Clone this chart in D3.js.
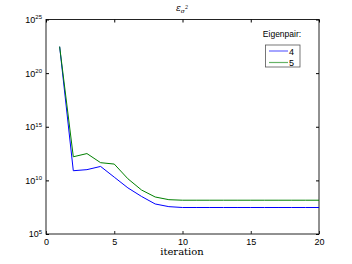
<!DOCTYPE html>
<meta charset="utf-8">
<style>
  body { margin: 0; padding: 0; background: white; }
  svg { display: block; background: white; }
  .tick text { font-family: "Liberation Sans", Arial, sans-serif; font-size: 9px; fill: #000; }
</style>
<script src="https://d3js.org/d3.v7.min.js"></script>
<svg id="vis"></svg>
<script>

var width = 352, height = 264;

// data (log10 of the value)
const iterations = d3.range(1, 21);
const eig4 = [22.47, 10.9, 11.0, 11.3, 10.3, 9.3, 8.5, 7.8, 7.55, 7.47, 7.47, 7.47, 7.47, 7.47, 7.47, 7.47, 7.47, 7.47, 7.47, 7.47];
const eig5 = [22.47, 12.2, 12.5, 11.65, 11.52, 10.15, 9.1, 8.45, 8.2, 8.15, 8.15, 8.15, 8.15, 8.15, 8.15, 8.15, 8.15, 8.15, 8.15, 8.15];
const xTicks = [0, 5, 10, 15, 20];
const yTicks = [5, 10, 15, 20, 25];
const seriesNames = ["4", "5"];
const seriesColors = ["#0000ff", "#008000"];

var margin = {left: 46, right: 33, top: 19.5, bottom: 30};

var svg = d3.select("svg").attr("width", width).attr("height", height);

var x = d3.scaleLinear().domain([0, 20]).range([margin.left, width - margin.right]);
var y = d3.scaleLinear().domain([5, 25]).range([height - margin.bottom, margin.top]);

// box
svg.append("rect")
  .attr("x", x(0)).attr("y", y(25))
  .attr("width", x(20) - x(0)).attr("height", y(5) - y(25))
  .attr("fill", "none").attr("stroke", "#222").attr("stroke-width", 1);

// bottom axis
var xAxis = svg.append("g")
  .attr("transform", "translate(0," + y(5) + ")")
  .call(d3.axisBottom(x).tickValues(xTicks).tickSizeInner(-3).tickSizeOuter(0).tickPadding(5));
xAxis.select(".domain").remove();
xAxis.selectAll(".tick line").attr("stroke", "#222");

// top ticks
var xTop = svg.append("g")
  .attr("transform", "translate(0," + y(25) + ")")
  .call(d3.axisTop(x).tickValues(xTicks).tickSizeInner(-3).tickSizeOuter(0).tickFormat(""));
xTop.select(".domain").remove();

// left axis with powers of ten
var yAxis = svg.append("g")
  .attr("transform", "translate(" + x(0) + ",0)")
  .call(d3.axisLeft(y).tickValues(yTicks).tickSizeInner(-3).tickSizeOuter(0).tickPadding(4).tickFormat(""));
yAxis.select(".domain").remove();
yAxis.selectAll(".tick").each(function(d) {
  var t = d3.select(this).select("text")
    .attr("x", -4).attr("dy", "0.32em").attr("text-anchor", "end");
  t.append("tspan").text("10");
  t.append("tspan").attr("dy", "-0.6em").attr("font-size", "6px").text(d);
});

// right ticks
var yRight = svg.append("g")
  .attr("transform", "translate(" + x(20) + ",0)")
  .call(d3.axisRight(y).tickValues(yTicks).tickSizeInner(-3).tickSizeOuter(0).tickFormat(""));
yRight.select(".domain").remove();

// lines
var line = d3.line()
  .x(function(d, i) { return x(iterations[i]); })
  .y(function(d) { return y(d); });

[eig4, eig5].forEach(function(s, k) {
  svg.append("path")
    .datum(s)
    .attr("fill", "none")
    .attr("stroke", seriesColors[k])
    .attr("stroke-width", 1)
    .attr("d", line);
});

// title
var title = svg.append("text")
  .attr("x", 182).attr("y", 11)
  .attr("text-anchor", "middle")
  .attr("font-family", "DejaVu Serif, serif")
  .attr("font-style", "italic")
  .attr("font-size", "9px");
title.append("tspan").text("ε");
title.append("tspan").attr("dy", "2").attr("font-size", "6px").text("σ");
title.append("tspan").attr("dy", "-4").attr("font-size", "5px").text("2");

// x label
svg.append("text")
  .attr("x", 182).attr("y", 255)
  .attr("text-anchor", "middle")
  .attr("font-family", "DejaVu Serif, serif")
  .attr("font-size", "10px")
  .text("iteration");

// legend
svg.append("text")
  .attr("x", 282).attr("y", 37)
  .attr("text-anchor", "middle")
  .attr("font-family", "Liberation Sans, Arial, sans-serif")
  .attr("font-size", "8.5px")
  .text("Eigenpair:");

svg.append("rect")
  .attr("x", 265.5).attr("y", 45)
  .attr("width", 34.5).attr("height", 22)
  .attr("fill", "white").attr("stroke", "#555").attr("stroke-width", 0.8);

seriesNames.forEach(function(n, k) {
  var ly = 51 + k * 11.5;
  svg.append("line")
    .attr("x1", 269).attr("x2", 288)
    .attr("y1", ly).attr("y2", ly)
    .attr("stroke", seriesColors[k]).attr("stroke-opacity", 0.6).attr("stroke-width", 1.2);
  svg.append("text")
    .attr("x", 289).attr("y", ly + 3.5)
    .attr("font-family", "Liberation Sans, Arial, sans-serif")
    .attr("font-size", "9px")
    .text(n);
});

</script>
